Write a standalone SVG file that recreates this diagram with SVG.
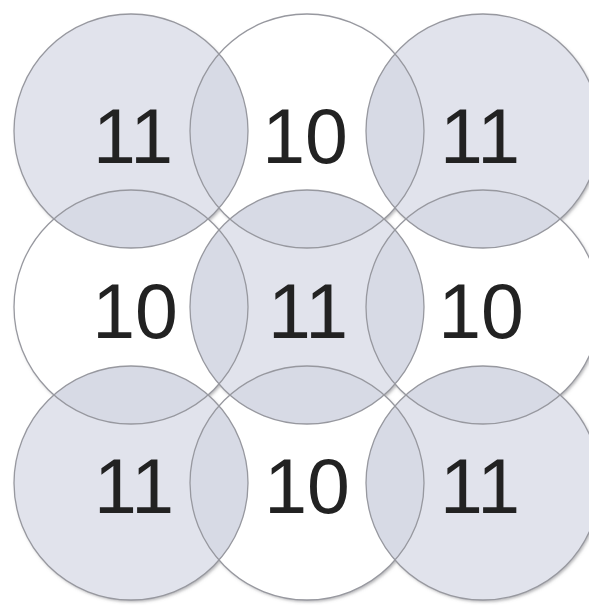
<svg xmlns="http://www.w3.org/2000/svg" width="589" height="606" viewBox="0 0 589 606">
  <style>
    .ring { fill: none; stroke: #97989f; stroke-width: 1.3; }
    .num { font-family: "Liberation Sans", Arial, sans-serif; font-size: 77px; fill: #222222; text-anchor: middle; }
    .g { fill: #e1e3ec; }
    .w { fill: #ffffff; }
    .lens { fill: #d7dae5; }
  </style>
  <defs>
    <filter id="sh" x="-10%" y="-10%" width="120%" height="120%">
      <feDropShadow dx="1.5" dy="2" stdDeviation="1.6" flood-color="#6a6a70" flood-opacity="0.5"/>
    </filter>
    <clipPath id="greys">
      <circle cx="131" cy="131" r="117"/>
      <circle cx="483" cy="131" r="117"/>
      <circle cx="307" cy="307" r="117"/>
      <circle cx="131" cy="483" r="117"/>
      <circle cx="483" cy="483" r="117"/>
    </clipPath>
  </defs>
  <rect width="589" height="606" fill="#ffffff"/>
  <g id="fills">
    <g filter="url(#sh)">
      <circle class="w" cx="307" cy="131" r="117"/>
      <circle class="w" cx="131" cy="307" r="117"/>
      <circle class="w" cx="483" cy="307" r="117"/>
      <circle class="w" cx="307" cy="483" r="117"/>
      <circle class="g" cx="131" cy="131" r="117"/>
      <circle class="g" cx="483" cy="131" r="117"/>
      <circle class="g" cx="307" cy="307" r="117"/>
      <circle class="g" cx="131" cy="483" r="117"/>
      <circle class="g" cx="483" cy="483" r="117"/>
    </g>
    <g clip-path="url(#greys)">
      <circle class="lens" cx="307" cy="131" r="117"/>
      <circle class="lens" cx="131" cy="307" r="117"/>
      <circle class="lens" cx="483" cy="307" r="117"/>
      <circle class="lens" cx="307" cy="483" r="117"/>
    </g>
  </g>
  <g id="n-top-left"><circle class="ring" cx="131" cy="131" r="117"/><text class="num" x="133" y="163">11</text></g>
  <g id="n-top-mid"><circle class="ring" cx="307" cy="131" r="117"/><text class="num" x="305" y="163">10</text></g>
  <g id="n-top-right"><circle class="ring" cx="483" cy="131" r="117"/><text class="num" x="480" y="163">11</text></g>
  <g id="n-mid-left"><circle class="ring" cx="131" cy="307" r="117"/><text class="num" x="135" y="338">10</text></g>
  <g id="n-center"><circle class="ring" cx="307" cy="307" r="117"/><text class="num" x="308" y="338">11</text></g>
  <g id="n-mid-right"><circle class="ring" cx="483" cy="307" r="117"/><text class="num" x="481" y="338">10</text></g>
  <g id="n-bot-left"><circle class="ring" cx="131" cy="483" r="117"/><text class="num" x="134" y="513">11</text></g>
  <g id="n-bot-mid"><circle class="ring" cx="307" cy="483" r="117"/><text class="num" x="307" y="513">10</text></g>
  <g id="n-bot-right"><circle class="ring" cx="483" cy="483" r="117"/><text class="num" x="480" y="513">11</text></g>
  <g id="connectors"/>
</svg>
